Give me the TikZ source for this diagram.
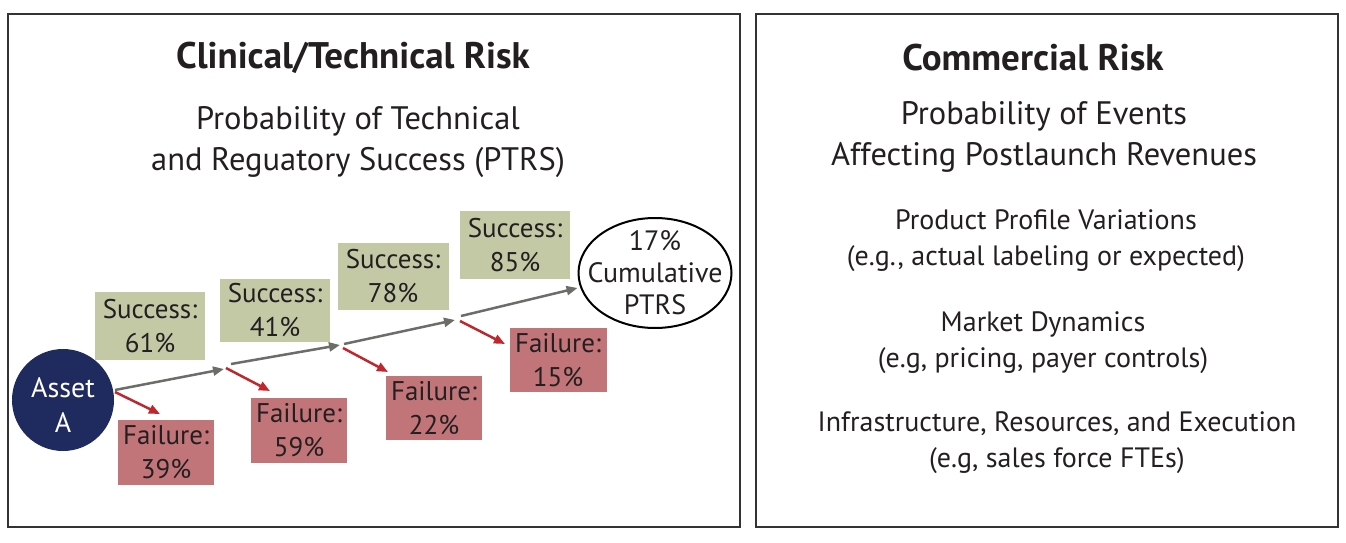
\documentclass[tikz,border=0pt]{standalone}
\usepackage{fontspec}
\setmainfont{PT Sans}
\usetikzlibrary{arrows.meta,shapes.geometric}
\definecolor{succ}{HTML}{C3C9A5}
\definecolor{fail}{HTML}{C27579}
\definecolor{navy}{HTML}{1F2A5E}
\definecolor{garrow}{HTML}{6B6E68}
\definecolor{rarrow}{HTML}{C0272D}
\definecolor{ink}{HTML}{231F20}
\definecolor{frame}{HTML}{333333}
\begin{document}
\begin{tikzpicture}[x=1pt,y=-1pt,
  panel/.style={draw=frame,line width=2pt},
  title/.style={font=\fontsize{37}{42}\selectfont\bfseries,text=ink},
  sub/.style={font=\fontsize{32.5}{41}\selectfont,text=ink,align=center},
  item/.style={font=\fontsize{28}{36}\selectfont,text=ink,align=center},
  boxtext/.style={font=\fontsize{27}{34}\selectfont,text=ink,align=center,inner sep=0pt},
  sbox/.style={boxtext,fill=succ},
  fbox/.style={boxtext,fill=fail},
  garr/.style={draw=garrow,line width=2.5pt,-{Triangle[length=11pt,width=9pt]}},
  rarr/.style={draw=rarrow,line width=2.5pt,-{Triangle[length=11pt,width=9pt]}}
]
\useasboundingbox (0,0) rectangle (1346,543);
\draw[panel] (8,14) rectangle (740,527);
\draw[panel] (756,14) rectangle (1338,527);

\node[title] (t1) at (353,58) {Clinical/Technical Risk};
\node[sub] (st1) at (358,142) {Probability of Technical\\and Reguatory Success (PTRS)};
\node[title] (t2) at (1033,58) {Commercial Risk};
\node[sub] (st2) at (1044,137) {Probability of Events\\Affecting Postlaunch Revenues};
\node[item] (i1) at (1046,241) {Product Profile Variations\\(e.g., actual labeling or expected)};
\node[item] (i2) at (1043,343) {Market Dynamics\\(e.g, pricing, payer controls)};
\node[item] (i3) at (1057,443) {Infrastructure, Resources, and Execution\\(e.g, sales force FTEs)};

\node[circle,fill=navy,minimum size=102pt,inner sep=0pt,
  label={[label distance=0pt,yshift=-5pt,text=white,align=center,
  font=\fontsize{28}{35}\selectfont]center:Asset\\A}] (asset) at (63,400) {};

\node[sbox,minimum width=110pt,minimum height=68pt] (s1) at (150,326) {Success:\\61\%};
\node[sbox,minimum width=110pt,minimum height=63pt] (s2) at (275,310) {Success:\\41\%};
\node[sbox,minimum width=111pt,minimum height=67pt] (s3) at (393,276) {Success:\\78\%};
\node[sbox,minimum width=110pt,minimum height=68pt] (s4) at (515,245) {Success:\\85\%};

\node[fbox,minimum width=96pt,minimum height=65pt] (f1) at (166,452) {Failure:\\39\%};
\node[fbox,minimum width=96pt,minimum height=65pt] (f2) at (299,430) {Failure:\\59\%};
\node[fbox,minimum width=96pt,minimum height=64pt] (f3) at (434,408) {Failure:\\22\%};
\node[fbox,minimum width=97pt,minimum height=64pt] (f4) at (558,360) {Failure:\\15\%};

\node[ellipse,draw=black,line width=2pt,minimum width=153pt,minimum height=110pt,
  inner sep=-18pt,align=center,font=\fontsize{28}{32}\selectfont,text=ink] (cum) at (655,273)
  {17\%\\Cumulative\\PTRS};

\coordinate (b1) at (115,390);

\draw[garr] (b1) -- (224,369);
\draw[garr] (231,364) -- (340,345);
\draw[garr] (344,344) -- (455,320);
\draw[garr] (461,316) -- (cum.west |- 0,288);
\draw[rarr] (115,392) -- (160,414);
\draw[rarr] (226,368) -- (270,391);
\draw[rarr] (343,348) -- (388,372);
\draw[rarr] (460,321) -- (505,344);
\end{tikzpicture}
\end{document}
